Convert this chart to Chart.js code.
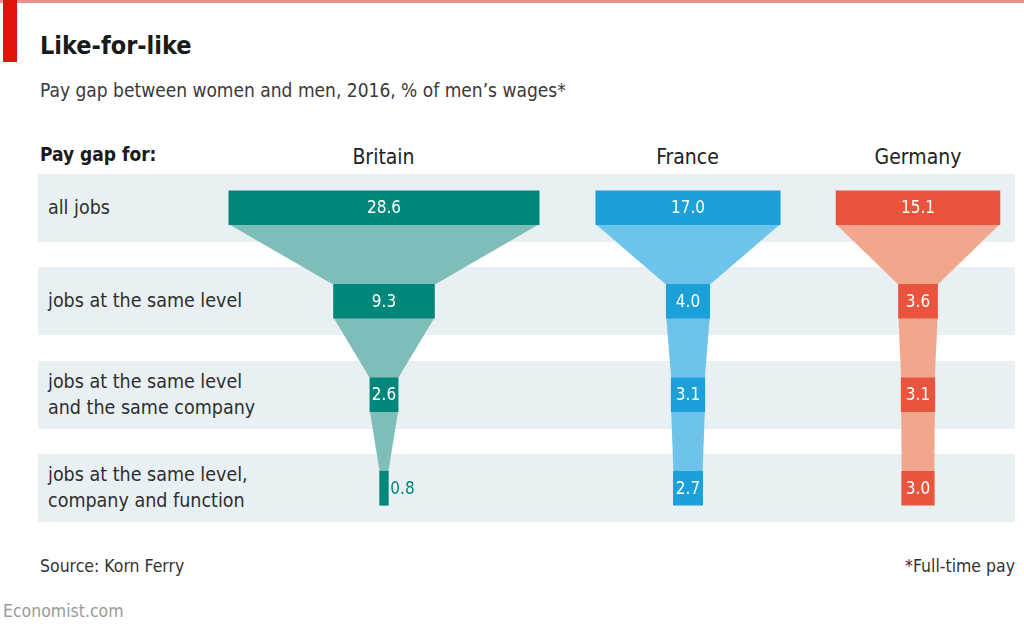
<!DOCTYPE html>
<html>
<head>
<meta charset="utf-8">
<script src="https://cdn.jsdelivr.net/npm/chart.js@4.4.1/dist/chart.umd.min.js"></script>
<style>
  body { margin: 0; width: 1024px; height: 632px; background: #fff; position: relative; overflow: hidden;
         font-family: "DejaVu Sans Condensed", "Liberation Sans Narrow", sans-serif; color: #222; }
  .topline { position: absolute; left: 0; top: 0; width: 1024px; height: 3px; background: #e98f8f; }
  .redtag { position: absolute; left: 3px; top: 0; width: 14px; height: 62px; background: #e3120b; }
  .title { position: absolute; left: 40px; top: 31px; font-size: 25px; font-weight: bold; color: #1a1a1a; }
  .subtitle { position: absolute; left: 40px; top: 79px; font-size: 19px; color: #3a3a3a; }
  .payfor { position: absolute; left: 40px; top: 143px; font-size: 19px; font-weight: bold; color: #1a1a1a; }
  .country { position: absolute; top: 145px; font-size: 21px; color: #222; transform: translateX(-50%); }
  .band { position: absolute; left: 38px; width: 977px; background: #e9f0f4; }
  .rowlab { position: absolute; left: 48px; font-size: 19.5px; line-height: 26px; color: #2e2e2e; transform: translateY(-50%); }
  .note { position: absolute; top: 556px; font-size: 17.5px; color: #333; }
  .brand { position: absolute; left: 3px; top: 601px; font-size: 17.5px; color: #9a9a9a; }
  canvas { position: absolute; }
</style>
</head>
<body>
<div class="topline"></div>
<div class="redtag"></div>
<div class="title">Like-for-like</div>
<div class="subtitle">Pay gap between women and men, 2016, % of men’s wages*</div>
<div class="payfor">Pay gap for:</div>
<div class="note" style="left:40px">Source: Korn Ferry</div>
<div class="note" style="right:9px">*Full-time pay</div>
<div class="brand">Economist.com</div>

<script>
// rows (categories)
const ROWS = [
  ['all jobs'],
  ['jobs at the same level'],
  ['jobs at the same level', 'and the same company'],
  ['jobs at the same level,', 'company and function']
];
const COUNTRIES = ['Britain', 'France', 'Germany'];
// pay gap, % of men's wages
const BRITAIN = [28.6, 9.3, 2.6, 0.8];
const FRANCE = [17.0, 4.0, 3.1, 2.7];
const GERMANY = [15.1, 3.6, 3.1, 3.0];

const SERIES = [BRITAIN, FRANCE, GERMANY];
const DARK = ['#00877b', '#1ba0da', '#e8553c'];
const LIGHT = ['#7fbeb8', '#6ec3ea', '#f2a68d'];

// layout of each panel: centre x and canvas width
const PANELS = [
  { cx: 383.5, w: 330 },
  { cx: 687.5, w: 240 },
  { cx: 918, w: 200 }
];
const PX_PER_UNIT = 10.85;
const TOP = 161, HEIGHT = 374, BAR_H = 34, BAND_H = 68;

const funnelPlugin = {
  id: 'funnel',
  beforeDatasetsDraw(chart) {
    const { ctx } = chart;
    const meta = chart.getDatasetMeta(0);
    const color = chart.options.plugins.funnel.light;
    ctx.save();
    ctx.fillStyle = color;
    for (let i = 0; i < meta.data.length - 1; i++) {
      const a = meta.data[i].getProps(['x', 'y', 'base', 'height'], true);
      const b = meta.data[i + 1].getProps(['x', 'y', 'base', 'height'], true);
      const aL = Math.min(a.x, a.base), aR = Math.max(a.x, a.base);
      const bL = Math.min(b.x, b.base), bR = Math.max(b.x, b.base);
      const y1 = a.y + a.height / 2 - 0.5, y2 = b.y - b.height / 2 + 0.5;
      ctx.beginPath();
      ctx.moveTo(aL, y1);
      ctx.lineTo(aR, y1);
      ctx.lineTo(bR, y2);
      ctx.lineTo(bL, y2);
      ctx.closePath();
      ctx.fill();
    }
    ctx.restore();
  },
  afterDatasetsDraw(chart) {
    const { ctx } = chart;
    const meta = chart.getDatasetMeta(0);
    const vals = chart.options.plugins.funnel.values;
    const dark = chart.options.plugins.funnel.dark;
    ctx.save();
    ctx.font = '17px "DejaVu Sans Condensed", "Liberation Sans Narrow", sans-serif';
    ctx.textBaseline = 'middle';
    meta.data.forEach((el, i) => {
      const p = el.getProps(['x', 'y', 'base'], true);
      const L = Math.min(p.x, p.base), R = Math.max(p.x, p.base);
      const txt = vals[i].toFixed(1);
      const tw = ctx.measureText(txt).width;
      if (R - L >= tw) {
        ctx.fillStyle = '#fff';
        ctx.textAlign = 'center';
        ctx.fillText(txt, (L + R) / 2, p.y + 1);
      } else {
        ctx.fillStyle = dark;
        ctx.textAlign = 'left';
        ctx.fillText(txt, R + 2, p.y + 1);
      }
    });
    ctx.restore();
  }
};

const charts = SERIES.map((vals, k) => {
  const pan = PANELS[k];
  const half = pan.w / 2 / PX_PER_UNIT;
  const cv = document.createElement('canvas');
  cv.width = pan.w; cv.height = HEIGHT;
  cv.style.left = (pan.cx - pan.w / 2) + 'px';
  cv.style.top = TOP + 'px';
  cv.style.width = pan.w + 'px';
  cv.style.height = HEIGHT + 'px';
  cv.style.zIndex = 2;
  document.body.appendChild(cv);

  const head = document.createElement('div');
  head.className = 'country';
  head.style.left = pan.cx + 'px';
  head.textContent = COUNTRIES[k];
  document.body.appendChild(head);

  return new Chart(cv.getContext('2d'), {
    type: 'bar',
    data: {
      labels: ROWS,
      datasets: [{
        data: vals.map(v => [-v / 2, v / 2]),
        backgroundColor: DARK[k],
        borderWidth: 0,
        barThickness: BAR_H
      }]
    },
    options: {
      indexAxis: 'y',
      responsive: false,
      animation: false,
      events: [],
      layout: { padding: 0 },
      plugins: {
        legend: { display: false },
        tooltip: { enabled: false },
        funnel: { values: vals, light: LIGHT[k], dark: DARK[k] }
      },
      scales: {
        x: { type: 'linear', min: -half, max: half, display: false },
        y: { type: 'category', display: false, offset: true }
      }
    },
    plugins: [funnelPlugin]
  });
});

// row bands and labels, placed from the first chart's y scale
const yScale = charts[0].scales.y;
ROWS.forEach((lines, i) => {
  const cy = TOP + yScale.getPixelForValue(i);
  const band = document.createElement('div');
  band.className = 'band';
  band.style.top = (cy - BAND_H / 2) + 'px';
  band.style.height = BAND_H + 'px';
  document.body.insertBefore(band, document.body.firstChild);
  const lab = document.createElement('div');
  lab.className = 'rowlab';
  lab.style.top = cy + 'px';
  lab.innerHTML = lines.join('<br>');
  document.body.appendChild(lab);
});
</script>
</body>
</html>
